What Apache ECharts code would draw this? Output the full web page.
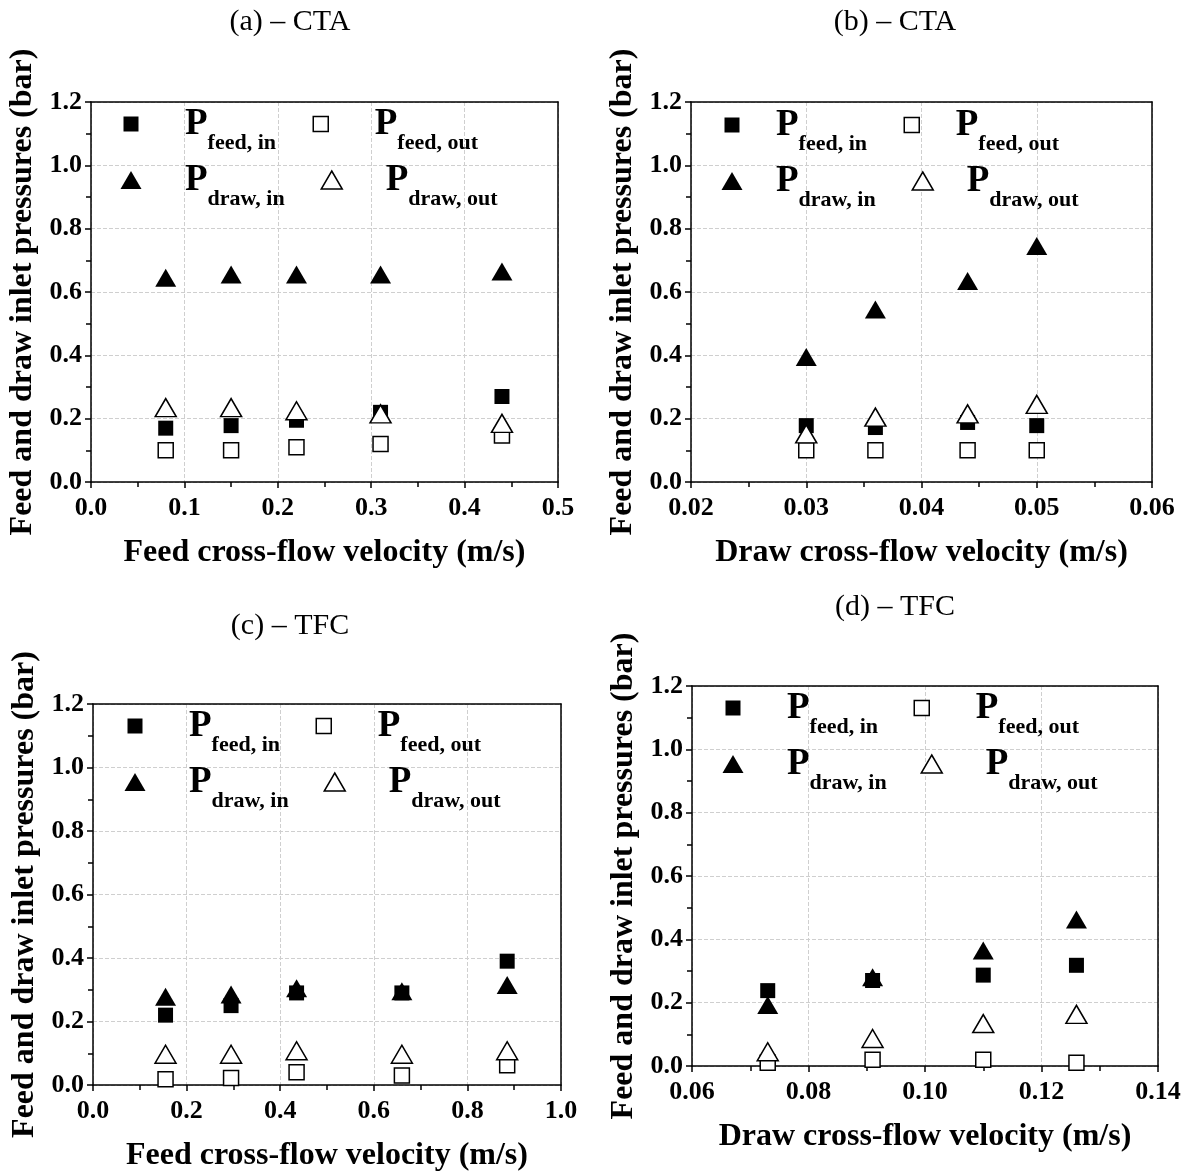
<!DOCTYPE html>
<html><head><meta charset="utf-8">
<script src="https://cdn.jsdelivr.net/npm/echarts@6/dist/echarts.min.js"></script>
<style>html,body{margin:0;padding:0;background:#fff}#c{width:1193px;height:1173px}</style>
</head><body><div id="c"></div>
<script>
// ---- data (bar) ----
const xA = [0.08, 0.15, 0.22, 0.31, 0.44];
const aFeedIn  = [0.17, 0.178, 0.195, 0.22, 0.27];
const aFeedOut = [0.10, 0.10, 0.11, 0.12, 0.147];
const aDrawIn  = [0.645, 0.655, 0.655, 0.655, 0.665];
const aDrawOut = [0.235, 0.235, 0.225, 0.215, 0.185];

const xB = [0.03, 0.036, 0.044, 0.05];
const bFeedIn  = [0.178, 0.172, 0.188, 0.178];
const bFeedOut = [0.10, 0.10, 0.10, 0.10];
const bDrawIn  = [0.395, 0.545, 0.635, 0.745];
const bDrawOut = [0.152, 0.205, 0.215, 0.245];

const xC = [0.155, 0.295, 0.435, 0.66, 0.885];
const cFeedIn  = [0.22, 0.25, 0.29, 0.29, 0.39];
const cFeedOut = [0.018, 0.022, 0.04, 0.03, 0.062];
const cDrawIn  = [0.278, 0.285, 0.305, 0.295, 0.315];
const cDrawOut = [0.097, 0.097, 0.108, 0.097, 0.108];

const xD = [0.073, 0.091, 0.11, 0.126];
const dFeedIn  = [0.238, 0.27, 0.287, 0.318];
const dFeedOut = [0.01, 0.02, 0.02, 0.01];
const dDrawIn  = [0.193, 0.28, 0.365, 0.463];
const dDrawOut = [0.045, 0.087, 0.134, 0.163];

const titles = ['(a) \u2013 CTA', '(b) \u2013 CTA', '(c) \u2013 TFC', '(d) \u2013 TFC'];
const xNames = ['Feed cross-flow velocity (m/s)', 'Draw cross-flow velocity (m/s)',
                'Feed cross-flow velocity (m/s)', 'Draw cross-flow velocity (m/s)'];
const yName = 'Feed and draw inlet pressures (bar)';
const seriesSubs = ['feed, in', 'feed, out', 'draw, in', 'draw, out'];

// ---- layout ----
const SERIF = '"Liberation Serif","Times New Roman",Times,serif';
const panels = [
  {id:'a', x:xA, vals:[aFeedIn,aFeedOut,aDrawIn,aDrawOut], xMin:0, xMax:0.5, xInt:0.1, dec:1,
   grid:{left:91, top:102, width:467, height:380}, tp:[290,22],
   leg:{c1:131, c2sq:320, c2tri:331, r1:123, r2:179, off:54}},
  {id:'b', x:xB, vals:[bFeedIn,bFeedOut,bDrawIn,bDrawOut], xMin:0.02, xMax:0.06, xInt:0.01, dec:2,
   grid:{left:691, top:102, width:461, height:380}, tp:[895,22],
   leg:{c1:732, c2sq:911, c2tri:922, r1:124, r2:180, off:44}},
  {id:'c', x:xC, vals:[cFeedIn,cFeedOut,cDrawIn,cDrawOut], xMin:0, xMax:1.0, xInt:0.2, dec:1,
   grid:{left:93, top:704, width:468, height:382}, tp:[290,626],
   leg:{c1:135, c2sq:323, c2tri:334, r1:725, r2:781, off:54}},
  {id:'d', x:xD, vals:[dFeedIn,dFeedOut,dDrawIn,dDrawOut], xMin:0.06, xMax:0.14, xInt:0.02, dec:2,
   grid:{left:692, top:686, width:466, height:380}, tp:[895,607],
   leg:{c1:733, c2sq:921, c2tri:931, r1:707, r2:763, off:54}}
];

const symDefs = [
  {symbol:'rect', size:[15,15], item:{color:'#000', borderColor:'#000', borderWidth:0, opacity:1}},
  {symbol:'rect', size:[15,15], item:{color:'#fff', borderColor:'#000', borderWidth:1.5, opacity:1}},
  {symbol:'triangle', size:[21,18], item:{color:'#000', borderColor:'#000', borderWidth:0, opacity:1}},
  {symbol:'triangle', size:[21,18], item:{color:'#fff', borderColor:'#000', borderWidth:1.5, opacity:1}}
];

const axisLineStyle = {color:'#000', width:1.5};
const option = {
  backgroundColor:'#fff',
  animation:false,
  title:[], grid:[], xAxis:[], yAxis:[], series:[], legend:[]
};

panels.forEach((p, i) => {
  option.title.push({text: titles[i], left: p.tp[0], top: p.tp[1], padding:0,
    textAlign:'center', textVerticalAlign:'middle',
    textStyle:{fontFamily:SERIF, fontWeight:'normal', fontSize:30, color:'#000'}});
  option.grid.push(Object.assign({show:false}, p.grid));
  option.xAxis.push({
    type:'value', gridIndex:i, min:p.xMin, max:p.xMax, interval:p.xInt,
    name:xNames[i], nameLocation:'middle', nameGap:55,
    nameTextStyle:{fontFamily:SERIF, fontWeight:'bold', fontSize:32, color:'#000'},
    axisLine:{show:true, onZero:false, lineStyle:axisLineStyle},
    axisTick:{show:true, inside:false, length:6, lineStyle:axisLineStyle},
    minorTick:{show:true, splitNumber:2, length:5, lineStyle:axisLineStyle},
    axisLabel:{fontFamily:SERIF, fontWeight:'bold', fontSize:26, color:'#000', margin:13,
      showMinLabel:true, showMaxLabel:true, formatter:v => v.toFixed(p.dec)},
    splitLine:{show:true, lineStyle:{type:'dashed', color:'#cfcfcf', width:1}}
  });
  option.yAxis.push({
    type:'value', gridIndex:i, min:0, max:1.2, interval:0.2,
    name:yName, nameLocation:'middle', nameGap:52,
    nameTextStyle:{fontFamily:SERIF, fontWeight:'bold', fontSize:32, color:'#000'},
    axisLine:{show:true, onZero:false, lineStyle:axisLineStyle},
    axisTick:{show:true, inside:false, length:6, lineStyle:axisLineStyle},
    minorTick:{show:true, splitNumber:2, length:5, lineStyle:axisLineStyle},
    axisLabel:{fontFamily:SERIF, fontWeight:'bold', fontSize:26, color:'#000', margin:9,
      formatter:v => v.toFixed(1)},
    splitLine:{show:true, lineStyle:{type:'dashed', color:'#cfcfcf', width:1}}
  });
  // frame: top and right axes (line only)
  option.xAxis.push({
    type:'value', gridIndex:i, position:'top', min:p.xMin, max:p.xMax, interval:p.xInt,
    axisLine:{show:true, onZero:false, lineStyle:axisLineStyle},
    axisTick:{show:false}, axisLabel:{show:false}, splitLine:{show:false}
  });
  option.yAxis.push({
    type:'value', gridIndex:i, position:'right', min:0, max:1.2, interval:0.2,
    axisLine:{show:true, onZero:false, lineStyle:axisLineStyle},
    axisTick:{show:false}, axisLabel:{show:false}, splitLine:{show:false}
  });
  seriesSubs.forEach((sub, k) => {
    const name = p.id + '|' + sub;
    const sd = symDefs[k];
    option.series.push({
      type:'scatter', name, xAxisIndex:2*i, yAxisIndex:2*i,
      symbol:sd.symbol, symbolSize:sd.size, itemStyle:sd.item,
      emphasis:{disabled:true},
      data:p.x.map((xv, j) => [xv, p.vals[k][j]]), z: 2 + k
    });
    const isTri = k >= 2;
    const iw = sd.size[0], ih = sd.size[1];
    const cx = (k % 2 === 0) ? p.leg.c1 : (isTri ? p.leg.c2tri : p.leg.c2sq);
    const cy = isTri ? p.leg.r2 : p.leg.r1;
    const g = p.leg.off - iw/2 - 5;
    option.legend.push({
      data:[name], selectedMode:false, padding:0,
      left: cx - iw/2, top: cy - 29,
      itemWidth: iw, itemHeight: ih,
      icon: sd.symbol,
      itemStyle: sd.item,
      formatter: nm => '{g|}{P|P}{s|' + nm.split('|')[1] + '}',
      textStyle:{fontFamily:SERIF, fontWeight:'bold', fontSize:22, color:'#000',
        rich:{
          g:{width:g, fontSize:10, verticalAlign:'top'},
          P:{fontFamily:SERIF, fontWeight:'bold', fontSize:37, color:'#000', verticalAlign:'top', padding:[12,0,0,0]},
          s:{fontFamily:SERIF, fontWeight:'bold', fontSize:22, color:'#000', verticalAlign:'top', padding:[38,0,0,0]}
        }}
    });
  });
});

const chart = echarts.init(document.getElementById('c'), null, {renderer:'canvas'});
chart.setOption(option);
</script>
</body></html>
